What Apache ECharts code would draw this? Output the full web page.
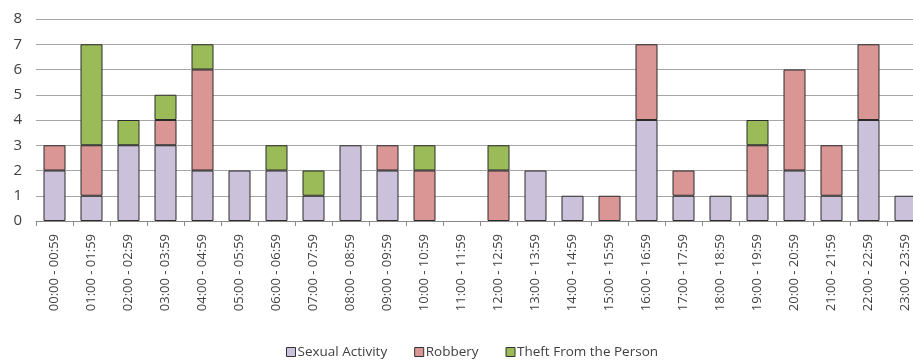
<!DOCTYPE html>
<html>
<head>
<meta charset="utf-8">
<script src="https://cdn.jsdelivr.net/npm/echarts@6/dist/echarts.min.js"></script>
<style>
  html, body { margin: 0; padding: 0; background: #ffffff; }
  #chart { width: 913px; height: 362px; }
</style>
</head>
<body>
<div id="chart"></div>
<script>
// Hourly bands of the day
const hours = [
  '00:00 - 00:59', '01:00 - 01:59', '02:00 - 02:59', '03:00 - 03:59',
  '04:00 - 04:59', '05:00 - 05:59', '06:00 - 06:59', '07:00 - 07:59',
  '08:00 - 08:59', '09:00 - 09:59', '10:00 - 10:59', '11:00 - 11:59',
  '12:00 - 12:59', '13:00 - 13:59', '14:00 - 14:59', '15:00 - 15:59',
  '16:00 - 16:59', '17:00 - 17:59', '18:00 - 18:59', '19:00 - 19:59',
  '20:00 - 20:59', '21:00 - 21:59', '22:00 - 22:59', '23:00 - 23:59'
];

// Offence counts per hour
const sexualActivity = [2, 1, 3, 3, 2, 2, 2, 1, 3, 2, 0, 0, 0, 2, 1, 0, 4, 1, 1, 1, 2, 1, 4, 1];
const robbery        = [1, 2, 0, 1, 4, 0, 0, 0, 0, 1, 2, 0, 2, 0, 0, 1, 3, 1, 0, 2, 4, 2, 3, 0];
const theftPerson    = [0, 4, 1, 1, 1, 0, 1, 1, 0, 0, 1, 0, 1, 0, 0, 0, 0, 0, 0, 1, 0, 0, 0, 0];

const seriesNames = ['Sexual Activity', 'Robbery', 'Theft From the Person'];
const seriesColors = ['#ccc1da', '#d99694', '#9bbb59'];

const font = '"Open Sans", "Noto Sans", sans-serif';
const textColor = '#404040';

const chart = echarts.init(document.getElementById('chart'));

function barSeries(name, data, color) {
  return {
    name: name,
    type: 'bar',
    stack: 'total',
    barWidth: 22,
    data: data.map(v => (v === 0 ? '-' : v)),
    itemStyle: { color: color, borderColor: '#2b2b2b', borderWidth: 1 },
    emphasis: { disabled: true }
  };
}

chart.setOption({
  animation: false,
  textStyle: { fontFamily: font },
  grid: {
    left: 36, top: 19, width: 888, height: 202,
    outerBoundsMode: 'none'
  },
  legend: {
    bottom: -2,
    left: 281,
    itemWidth: 9,
    itemHeight: 9,
    itemGap: 27,
    icon: 'rect',
    textStyle: { fontFamily: font, fontSize: 13.5, color: textColor, padding: [0, 0, 0, -3] },
    itemStyle: { borderColor: '#333', borderWidth: 1 },
    data: seriesNames
  },
  xAxis: {
    type: 'category',
    data: hours,
    axisLine: { lineStyle: { color: '#888', width: 1 } },
    axisTick: { show: true, length: 5, lineStyle: { color: '#888' } },
    axisLabel: {
      rotate: 90,
      interval: 0,
      margin: 13,
      fontFamily: font,
      fontSize: 13,
      color: textColor
    }
  },
  yAxis: {
    type: 'value',
    min: 0,
    max: 8,
    interval: 1,
    axisLine: { show: false },
    axisTick: { show: false },
    splitLine: { lineStyle: { color: '#a6a6a6', width: 1 } },
    axisLabel: { margin: 14, fontFamily: font, fontSize: 15, color: textColor }
  },
  series: [
    barSeries(seriesNames[0], sexualActivity, seriesColors[0]),
    barSeries(seriesNames[1], robbery, seriesColors[1]),
    barSeries(seriesNames[2], theftPerson, seriesColors[2])
  ]
});
</script>
</body>
</html>
